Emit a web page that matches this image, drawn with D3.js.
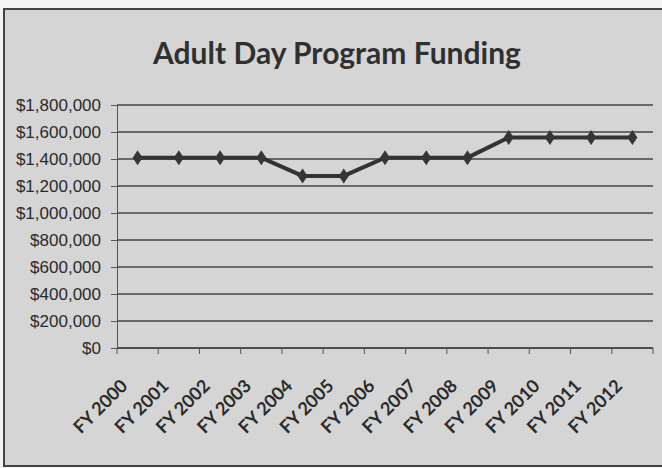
<!DOCTYPE html>
<html>
<head>
<meta charset="utf-8">
<script src="https://cdn.jsdelivr.net/npm/d3@7"></script>
<style>
  body { margin: 0; background: #f4f4f4; }
  svg { display: block; font-family: Lato, "Open Sans", sans-serif; }
</style>
</head>
<body>
<svg width="662" height="468"></svg>
<script>
const years = ['FY 2000', 'FY 2001', 'FY 2002', 'FY 2003', 'FY 2004', 'FY 2005', 'FY 2006',
               'FY 2007', 'FY 2008', 'FY 2009', 'FY 2010', 'FY 2011', 'FY 2012'];
const funding = [1410000, 1410000, 1410000, 1410000, 1275000, 1275000, 1410000,
                 1410000, 1410000, 1560000, 1560000, 1560000, 1560000];
const yTicks = [0, 200000, 400000, 600000, 800000, 1000000, 1200000, 1400000, 1600000, 1800000];

const margin = { top: 105, right: 9, bottom: 120, left: 117 };
const w = 662 - margin.left - margin.right;
const h = 468 - margin.top - margin.bottom;

const svg = d3.select('svg');

// chart frame
svg.append('rect')
    .attr('x', 4).attr('y', 9)
    .attr('width', 662).attr('height', 457)
    .attr('fill', '#d5d5d5')
    .attr('stroke', '#444')
    .attr('stroke-width', 2);

svg.append('text')
    .attr('x', 337)
    .attr('y', 64)
    .attr('text-anchor', 'middle')
    .style('font-size', '30px')
    .style('font-weight', 'bold')
    .style('fill', '#303030')
    .text('Adult Day Program Funding');

const g = svg.append('g')
    .attr('transform', `translate(${margin.left}, ${margin.top})`);

const xScale = d3.scaleBand()
    .domain(years)
    .range([0, w]);

const yScale = d3.scaleLinear()
    .domain([0, 1800000])
    .range([h, 0]);

// gridlines
g.selectAll('line.grid')
    .data(yTicks)
    .enter()
    .append('line')
    .attr('class', 'grid')
    .attr('x1', 0).attr('x2', w)
    .attr('y1', d => yScale(d)).attr('y2', d => yScale(d))
    .attr('stroke', '#444')
    .attr('stroke-width', 1.3);

const yAxis = d3.axisLeft(yScale)
    .tickValues(yTicks)
    .tickSize(6)
    .tickFormat(d3.format('$,'));

const ya = g.append('g').call(yAxis);
ya.select('.domain').attr('stroke', '#555');
ya.selectAll('.tick line').attr('stroke', '#555');
ya.selectAll('text')
    .style('font-size', '17px')
    .style('fill', '#2a2a2a')
    .attr('x', -16);

// x axis: ticks at band boundaries
const xa = g.append('g').attr('transform', `translate(0, ${h})`);
xa.append('line')
    .attr('x1', 0).attr('x2', w)
    .attr('stroke', '#444').attr('stroke-width', 1.5);
xa.selectAll('line.tk')
    .data(years.concat(['end']))
    .enter()
    .append('line')
    .attr('class', 'tk')
    .attr('x1', (d, i) => i * xScale.step())
    .attr('x2', (d, i) => i * xScale.step())
    .attr('y1', 0).attr('y2', 6)
    .attr('stroke', '#555');

xa.selectAll('text')
    .data(years)
    .enter()
    .append('text')
    .attr('transform', d => `translate(${xScale(d) + xScale.bandwidth() / 2 - 9}, 39) rotate(-45)`)
    .attr('text-anchor', 'end')
    .style('font-size', '18px')
    .style('font-weight', 'bold')
    .style('fill', '#2a2a2a')
    .text(d => d);

const cx = d => xScale(d) + xScale.bandwidth() / 2;

const line = d3.line()
    .x((d, i) => cx(years[i]))
    .y(d => yScale(d));

g.append('path')
    .datum(funding)
    .attr('d', line)
    .attr('fill', 'none')
    .attr('stroke', '#333')
    .attr('stroke-width', 4);

g.selectAll('path.marker')
    .data(funding)
    .enter()
    .append('path')
    .attr('class', 'marker')
    .attr('transform', (d, i) => `translate(${cx(years[i])}, ${yScale(d)})`)
    .attr('d', 'M0,-7.5L5,0L0,7.5L-5,0Z')
    .attr('fill', '#363636');
</script>
</body>
</html>
